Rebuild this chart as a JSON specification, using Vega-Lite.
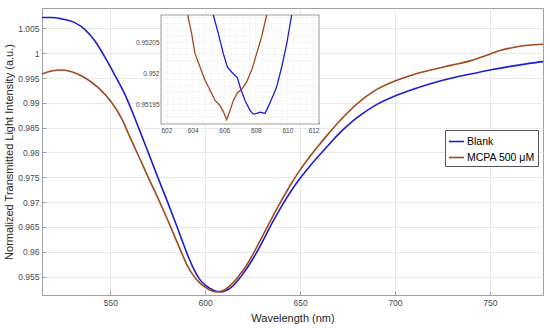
{
  "$schema": "https://vega.github.io/schema/vega-lite/v6.json",
  "width": 501,
  "height": 287,
  "autosize": {"type": "none"},
  "padding": {"left": 42, "top": 8, "right": 7, "bottom": 33},
  "background": "white",
  "config": {
    "font": "Liberation Sans",
    "view": {"stroke": "#a0a0a0", "strokeWidth": 1},
    "axis": {
      "domainColor": "#a0a0a0",
      "tickColor": "#a0a0a0",
      "gridColor": "#e3e3e3",
      "gridWidth": 0.8,
      "labelColor": "#4a4a4a",
      "titleColor": "#262626",
      "labelFontSize": 8.5,
      "titleFontSize": 11,
      "titleFontWeight": "normal",
      "tickSize": -4,
      "labelPadding": 7
    }
  },
  "datasets": {
    "spectra": [
      {"wl": 514, "val": 1.0072, "s": "Blank"},
      {"wl": 519, "val": 1.0072, "s": "Blank"},
      {"wl": 524.5, "val": 1.0069, "s": "Blank"},
      {"wl": 531.5, "val": 1.0061, "s": "Blank"},
      {"wl": 536.8, "val": 1.0047, "s": "Blank"},
      {"wl": 542, "val": 1.0024, "s": "Blank"},
      {"wl": 547.3, "val": 0.9991, "s": "Blank"},
      {"wl": 552.5, "val": 0.9955, "s": "Blank"},
      {"wl": 557.8, "val": 0.9916, "s": "Blank"},
      {"wl": 562.2, "val": 0.9876, "s": "Blank"},
      {"wl": 566.5, "val": 0.9834, "s": "Blank"},
      {"wl": 570.7, "val": 0.9793, "s": "Blank"},
      {"wl": 575, "val": 0.975, "s": "Blank"},
      {"wl": 580, "val": 0.9702, "s": "Blank"},
      {"wl": 585, "val": 0.9652, "s": "Blank"},
      {"wl": 588, "val": 0.9621, "s": "Blank"},
      {"wl": 591, "val": 0.9591, "s": "Blank"},
      {"wl": 594, "val": 0.9565, "s": "Blank"},
      {"wl": 597, "val": 0.9545, "s": "Blank"},
      {"wl": 600, "val": 0.9533, "s": "Blank"},
      {"wl": 603, "val": 0.95255, "s": "Blank"},
      {"wl": 604.5, "val": 0.95222, "s": "Blank"},
      {"wl": 605.31, "val": 0.952094, "s": "Blank"},
      {"wl": 605.63, "val": 0.952064, "s": "Blank"},
      {"wl": 605.94, "val": 0.952032, "s": "Blank"},
      {"wl": 606.2, "val": 0.95201, "s": "Blank"},
      {"wl": 606.47, "val": 0.952002, "s": "Blank"},
      {"wl": 606.83, "val": 0.951993, "s": "Blank"},
      {"wl": 607.04, "val": 0.951975, "s": "Blank"},
      {"wl": 607.32, "val": 0.951956, "s": "Blank"},
      {"wl": 607.63, "val": 0.95194, "s": "Blank"},
      {"wl": 607.84, "val": 0.951934, "s": "Blank"},
      {"wl": 608.06, "val": 0.951935, "s": "Blank"},
      {"wl": 608.27, "val": 0.951937, "s": "Blank"},
      {"wl": 608.58, "val": 0.951935, "s": "Blank"},
      {"wl": 608.79, "val": 0.951946, "s": "Blank"},
      {"wl": 609.11, "val": 0.951965, "s": "Blank"},
      {"wl": 609.32, "val": 0.951978, "s": "Blank"},
      {"wl": 609.64, "val": 0.95201, "s": "Blank"},
      {"wl": 609.96, "val": 0.952048, "s": "Blank"},
      {"wl": 610.27, "val": 0.952094, "s": "Blank"},
      {"wl": 611.2, "val": 0.95224, "s": "Blank"},
      {"wl": 612.5, "val": 0.9525, "s": "Blank"},
      {"wl": 615, "val": 0.95326, "s": "Blank"},
      {"wl": 618, "val": 0.9546, "s": "Blank"},
      {"wl": 620, "val": 0.9556, "s": "Blank"},
      {"wl": 625, "val": 0.9585, "s": "Blank"},
      {"wl": 630, "val": 0.9619, "s": "Blank"},
      {"wl": 635, "val": 0.9656, "s": "Blank"},
      {"wl": 640, "val": 0.969, "s": "Blank"},
      {"wl": 645, "val": 0.9721, "s": "Blank"},
      {"wl": 650, "val": 0.9748, "s": "Blank"},
      {"wl": 655, "val": 0.9772, "s": "Blank"},
      {"wl": 660, "val": 0.9794, "s": "Blank"},
      {"wl": 665, "val": 0.9815, "s": "Blank"},
      {"wl": 670, "val": 0.9836, "s": "Blank"},
      {"wl": 675, "val": 0.9854, "s": "Blank"},
      {"wl": 680, "val": 0.987, "s": "Blank"},
      {"wl": 690, "val": 0.9896, "s": "Blank"},
      {"wl": 700, "val": 0.9914, "s": "Blank"},
      {"wl": 710, "val": 0.9928, "s": "Blank"},
      {"wl": 720, "val": 0.994, "s": "Blank"},
      {"wl": 730, "val": 0.995, "s": "Blank"},
      {"wl": 740, "val": 0.9958, "s": "Blank"},
      {"wl": 750, "val": 0.9966, "s": "Blank"},
      {"wl": 760, "val": 0.9973, "s": "Blank"},
      {"wl": 770, "val": 0.9979, "s": "Blank"},
      {"wl": 778, "val": 0.9983, "s": "Blank"},
      {"wl": 514, "val": 0.9958, "s": "MCPA 500 μM"},
      {"wl": 519, "val": 0.9964, "s": "MCPA 500 μM"},
      {"wl": 524.5, "val": 0.9966, "s": "MCPA 500 μM"},
      {"wl": 530, "val": 0.9962, "s": "MCPA 500 μM"},
      {"wl": 536.8, "val": 0.995, "s": "MCPA 500 μM"},
      {"wl": 543.8, "val": 0.993, "s": "MCPA 500 μM"},
      {"wl": 550.8, "val": 0.99, "s": "MCPA 500 μM"},
      {"wl": 556, "val": 0.9868, "s": "MCPA 500 μM"},
      {"wl": 560, "val": 0.9834, "s": "MCPA 500 μM"},
      {"wl": 565, "val": 0.9792, "s": "MCPA 500 μM"},
      {"wl": 570, "val": 0.975, "s": "MCPA 500 μM"},
      {"wl": 575, "val": 0.9709, "s": "MCPA 500 μM"},
      {"wl": 580, "val": 0.9666, "s": "MCPA 500 μM"},
      {"wl": 585, "val": 0.9621, "s": "MCPA 500 μM"},
      {"wl": 588, "val": 0.9594, "s": "MCPA 500 μM"},
      {"wl": 591, "val": 0.9569, "s": "MCPA 500 μM"},
      {"wl": 594, "val": 0.9551, "s": "MCPA 500 μM"},
      {"wl": 597, "val": 0.9538, "s": "MCPA 500 μM"},
      {"wl": 600, "val": 0.9529, "s": "MCPA 500 μM"},
      {"wl": 602, "val": 0.9524, "s": "MCPA 500 μM"},
      {"wl": 603, "val": 0.95222, "s": "MCPA 500 μM"},
      {"wl": 603.69, "val": 0.952094, "s": "MCPA 500 μM"},
      {"wl": 603.94, "val": 0.952064, "s": "MCPA 500 μM"},
      {"wl": 604.15, "val": 0.952032, "s": "MCPA 500 μM"},
      {"wl": 604.47, "val": 0.95201, "s": "MCPA 500 μM"},
      {"wl": 604.78, "val": 0.951989, "s": "MCPA 500 μM"},
      {"wl": 605.1, "val": 0.951973, "s": "MCPA 500 μM"},
      {"wl": 605.42, "val": 0.951956, "s": "MCPA 500 μM"},
      {"wl": 605.73, "val": 0.951948, "s": "MCPA 500 μM"},
      {"wl": 605.94, "val": 0.951938, "s": "MCPA 500 μM"},
      {"wl": 606.16, "val": 0.951925, "s": "MCPA 500 μM"},
      {"wl": 606.37, "val": 0.95194, "s": "MCPA 500 μM"},
      {"wl": 606.58, "val": 0.951956, "s": "MCPA 500 μM"},
      {"wl": 606.83, "val": 0.951968, "s": "MCPA 500 μM"},
      {"wl": 607.11, "val": 0.951974, "s": "MCPA 500 μM"},
      {"wl": 607.42, "val": 0.951986, "s": "MCPA 500 μM"},
      {"wl": 607.74, "val": 0.952005, "s": "MCPA 500 μM"},
      {"wl": 608.06, "val": 0.952032, "s": "MCPA 500 μM"},
      {"wl": 608.37, "val": 0.952059, "s": "MCPA 500 μM"},
      {"wl": 608.69, "val": 0.952094, "s": "MCPA 500 μM"},
      {"wl": 610, "val": 0.95232, "s": "MCPA 500 μM"},
      {"wl": 612, "val": 0.95284, "s": "MCPA 500 μM"},
      {"wl": 615, "val": 0.9539, "s": "MCPA 500 μM"},
      {"wl": 618, "val": 0.9553, "s": "MCPA 500 μM"},
      {"wl": 620, "val": 0.9563, "s": "MCPA 500 μM"},
      {"wl": 625, "val": 0.9594, "s": "MCPA 500 μM"},
      {"wl": 630, "val": 0.963, "s": "MCPA 500 μM"},
      {"wl": 635, "val": 0.9667, "s": "MCPA 500 μM"},
      {"wl": 640, "val": 0.9702, "s": "MCPA 500 μM"},
      {"wl": 645, "val": 0.9735, "s": "MCPA 500 μM"},
      {"wl": 650, "val": 0.9765, "s": "MCPA 500 μM"},
      {"wl": 655, "val": 0.9791, "s": "MCPA 500 μM"},
      {"wl": 660, "val": 0.9815, "s": "MCPA 500 μM"},
      {"wl": 665, "val": 0.9838, "s": "MCPA 500 μM"},
      {"wl": 670, "val": 0.986, "s": "MCPA 500 μM"},
      {"wl": 675, "val": 0.988, "s": "MCPA 500 μM"},
      {"wl": 680, "val": 0.9898, "s": "MCPA 500 μM"},
      {"wl": 690, "val": 0.9926, "s": "MCPA 500 μM"},
      {"wl": 700, "val": 0.9944, "s": "MCPA 500 μM"},
      {"wl": 710, "val": 0.9957, "s": "MCPA 500 μM"},
      {"wl": 720, "val": 0.9967, "s": "MCPA 500 μM"},
      {"wl": 730, "val": 0.9976, "s": "MCPA 500 μM"},
      {"wl": 740, "val": 0.9985, "s": "MCPA 500 μM"},
      {"wl": 750, "val": 0.9998, "s": "MCPA 500 μM"},
      {"wl": 755, "val": 1.0005, "s": "MCPA 500 μM"},
      {"wl": 763, "val": 1.0012, "s": "MCPA 500 μM"},
      {"wl": 770, "val": 1.0016, "s": "MCPA 500 μM"},
      {"wl": 778, "val": 1.0018, "s": "MCPA 500 μM"}
    ],
    "gridX": [
      {"g": 602.4}, {"g": 602.8}, {"g": 603.2}, {"g": 603.6}, {"g": 604}, {"g": 604.4}, {"g": 604.8},
      {"g": 605.2}, {"g": 605.6}, {"g": 606}, {"g": 606.4}, {"g": 606.8}, {"g": 607.2}, {"g": 607.6},
      {"g": 608}, {"g": 608.4}, {"g": 608.8}, {"g": 609.2}, {"g": 609.6}, {"g": 610}, {"g": 610.4},
      {"g": 610.8}, {"g": 611.2}, {"g": 611.6}
    ],
    "gridY": [
      {"g": 0.95192}, {"g": 0.95193}, {"g": 0.95194}, {"g": 0.95195}, {"g": 0.95196}, {"g": 0.95197},
      {"g": 0.95198}, {"g": 0.95199}, {"g": 0.952}, {"g": 0.95201}, {"g": 0.95202}, {"g": 0.95203},
      {"g": 0.95204}, {"g": 0.95205}, {"g": 0.95206}, {"g": 0.95207}, {"g": 0.95208}, {"g": 0.95209}
    ],
    "box": [{"x1": 602, "x2": 612, "y1": 0.951918, "y2": 0.952094}]
  },
  "layer": [
    {
      "data": {"name": "spectra"},
      "mark": {"type": "line", "strokeWidth": 1.6, "interpolate": "monotone"},
      "encoding": {
        "x": {
          "field": "wl", "type": "quantitative",
          "scale": {"domain": [514, 778], "nice": false, "zero": false},
          "axis": {"title": "Wavelength (nm)", "values": [550, 600, 650, 700, 750], "grid": true, "titlePadding": 6}
        },
        "y": {
          "field": "val", "type": "quantitative",
          "scale": {"domain": [0.9513, 1.0091], "nice": false, "zero": false},
          "axis": {
            "title": "Normalized Transmitted Light Intensity (a.u.)",
            "values": [0.955, 0.96, 0.965, 0.97, 0.975, 0.98, 0.985, 0.99, 0.995, 1, 1.005],
            "format": ".3~f", "grid": true, "titlePadding": 3
          }
        },
        "color": {
          "field": "s", "type": "nominal",
          "scale": {"domain": ["Blank", "MCPA 500 μM"], "range": ["#1e1ecf", "#a04a1e"]},
          "legend": {
            "title": null, "orient": "none", "legendX": 403, "legendY": 122,
            "symbolType": "stroke", "symbolSize": 225, "symbolStrokeWidth": 1.6,
            "labelFontSize": 10.5, "labelColor": "#000000", "labelOffset": 2,
            "strokeColor": "#555555", "fillColor": "white", "padding": 3, "rowPadding": 2
          }
        }
      }
    },
    {
      "data": {"name": "box"},
      "mark": {"type": "rect", "fill": "white", "stroke": "#9a9a9a", "strokeWidth": 1},
      "encoding": {
        "x": {"field": "x1", "type": "quantitative", "scale": {"domain": [602, 612], "range": [119, 277], "nice": false, "zero": false}, "axis": null},
        "x2": {"field": "x2"},
        "y": {"field": "y1", "type": "quantitative", "scale": {"domain": [0.951918, 0.952094], "range": [116, 7], "nice": false, "zero": false}, "axis": null},
        "y2": {"field": "y2"}
      }
    },
    {
      "data": {"name": "gridX"},
      "mark": {"type": "rule", "stroke": "#e2e2e2", "strokeWidth": 0.6, "strokeDash": [1, 1]},
      "encoding": {
        "x": {"field": "g", "type": "quantitative", "scale": {"domain": [602, 612], "range": [119, 277], "nice": false, "zero": false}, "axis": null},
        "y": {"datum": 0.951918, "type": "quantitative", "scale": {"domain": [0.951918, 0.952094], "range": [116, 7], "nice": false, "zero": false}, "axis": null},
        "y2": {"datum": 0.952094}
      }
    },
    {
      "data": {"name": "gridY"},
      "mark": {"type": "rule", "stroke": "#e2e2e2", "strokeWidth": 0.6, "strokeDash": [1, 1]},
      "encoding": {
        "y": {"field": "g", "type": "quantitative", "scale": {"domain": [0.951918, 0.952094], "range": [116, 7], "nice": false, "zero": false}, "axis": null},
        "x": {"datum": 602, "type": "quantitative", "scale": {"domain": [602, 612], "range": [119, 277], "nice": false, "zero": false}, "axis": null},
        "x2": {"datum": 612}
      }
    },
    {
      "data": {"name": "spectra"},
      "transform": [{"filter": "datum.val <= 0.9520945 && datum.wl >= 602 && datum.wl <= 612"}],
      "mark": {"type": "line", "strokeWidth": 1.3},
      "encoding": {
        "x": {
          "field": "wl", "type": "quantitative",
          "scale": {"domain": [602, 612], "range": [119, 277], "nice": false, "zero": false},
          "axis": {"orient": "bottom", "offset": -171, "values": [602, 604, 606, 608, 610, 612], "title": null, "grid": false, "domain": false, "labelFontSize": 6.5, "tickSize": -2, "labelPadding": 5, "format": "d"}
        },
        "y": {
          "field": "val", "type": "quantitative",
          "scale": {"domain": [0.951918, 0.952094], "range": [116, 7], "nice": false, "zero": false},
          "axis": {"orient": "left", "offset": -119, "values": [0.95195, 0.952, 0.95205], "title": null, "grid": false, "domain": false, "labelFontSize": 6.5, "tickSize": -2, "labelPadding": 4, "format": ".5~f"}
        },
        "color": {"field": "s", "type": "nominal", "legend": null}
      }
    }
  ],
  "resolve": {
    "scale": {"x": "independent", "y": "independent"},
    "axis": {"x": "independent", "y": "independent"}
  }
}
